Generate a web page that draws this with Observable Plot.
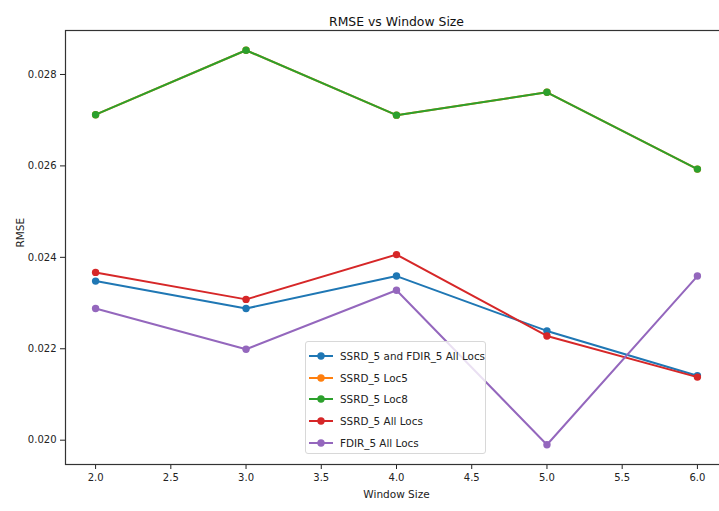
<!DOCTYPE html>
<html>
<head>
<meta charset="utf-8">
<script src="https://cdn.jsdelivr.net/npm/d3@7"></script>
<script src="https://cdn.jsdelivr.net/npm/@observablehq/plot@0.6"></script>
<style>
  html, body { margin: 0; padding: 0; background: #fff; }
  #wrap { position: relative; width: 719px; height: 511px; overflow: hidden; font-family: "DejaVu Sans", sans-serif; }
  #wrap svg { overflow: hidden; }
  #legend { position: absolute; left: 305px; top: 341px; width: 181px; height: 113px; box-sizing: border-box;
    border: 1px solid #d8d8d8; border-radius: 3px; background: rgba(255,255,255,0.8); }
  .item { position: absolute; left: 2px; height: 14px; display: flex; align-items: center; font-size: 10.4px; color: #222; white-space: nowrap; }
  .item svg { margin-right: 6px; }
</style>
</head>
<body>
<div id="wrap"></div>
<script>
const windowSizes = [2, 3, 4, 5, 6];
const seriesNames = ["SSRD_5 and FDIR_5 All Locs", "SSRD_5 Loc5", "SSRD_5 Loc8", "SSRD_5 All Locs", "FDIR_5 All Locs"];
const seriesColors = ["#1f77b4", "#ff7f0e", "#2ca02c", "#d62728", "#9467bd"];
const ssrdFdirAll = [0.02348, 0.02288, 0.02359, 0.02239, 0.02141];
const ssrdLoc5   = [0.02712, 0.02853, 0.02711, 0.02761, 0.02593];
const ssrdLoc8   = [0.02712, 0.02853, 0.02711, 0.02761, 0.02593];
const ssrdAll    = [0.02367, 0.02308, 0.02406, 0.02228, 0.02138];
const fdirAll    = [0.02288, 0.02199, 0.02328, 0.01990, 0.02359];
const seriesValues = [ssrdFdirAll, ssrdLoc5, ssrdLoc8, ssrdAll, fdirAll];
const xTicks = [2.0, 2.5, 3.0, 3.5, 4.0, 4.5, 5.0, 5.5, 6.0];
const yTicks = [0.020, 0.022, 0.024, 0.026, 0.028];

const marks = [];
seriesNames.forEach((name, i) => {
  const rows = windowSizes.map((w, j) => ({x: w, y: seriesValues[i][j], series: name}));
  marks.push(Plot.line(rows, {x: "x", y: "y", stroke: seriesColors[i], strokeWidth: 2}));
  marks.push(Plot.dot(rows, {x: "x", y: "y", fill: seriesColors[i], r: 3.7}));
});

const chart = Plot.plot({
  width: 719,
  height: 511,
  marginLeft: 65,
  marginRight: -8,
  marginTop: 30,
  marginBottom: 47,
  style: {fontFamily: "DejaVu Sans, sans-serif", fontSize: "10px", color: "#222", background: "#fff", overflow: "hidden"},
  x: {domain: [1.8, 6.2]},
  y: {domain: [0.019468, 0.028962]},
  marks: [
    Plot.axisX({ticks: xTicks, tickFormat: d3.format(".1f"), tickSize: 5, tickPadding: 4, fontSize: 10, label: null}),
    Plot.axisY({ticks: yTicks, tickFormat: d3.format(".3f"), tickSize: 5, tickPadding: 4, fontSize: 10, label: null}),
    ...marks,
    Plot.frame({stroke: "#333", strokeWidth: 1.2}),
    Plot.text(["RMSE vs Window Size"], {frameAnchor: "top", dy: -13, fontSize: 12.4, fill: "#111"}),
    Plot.text(["Window Size"], {frameAnchor: "bottom", dy: 33, fontSize: 10.5, fill: "#222"}),
    Plot.text(["RMSE"], {frameAnchor: "left", dx: -45, rotate: -90, fontSize: 10.5, fill: "#222"})
  ]
});
const wrap = document.getElementById("wrap");
wrap.appendChild(chart);

const legend = document.createElement("div");
legend.id = "legend";
seriesNames.forEach((name, i) => {
  const it = document.createElement("div");
  it.className = "item";
  it.style.top = (7 + i * 21.7) + "px";
  it.innerHTML = `<svg width="26" height="10"><line x1="1" y1="5" x2="25" y2="5" stroke="${seriesColors[i]}" stroke-width="2"/><circle cx="13" cy="5" r="3.7" fill="${seriesColors[i]}"/></svg><span>${name}</span>`;
  legend.appendChild(it);
});
wrap.appendChild(legend);
</script>
</body>
</html>
